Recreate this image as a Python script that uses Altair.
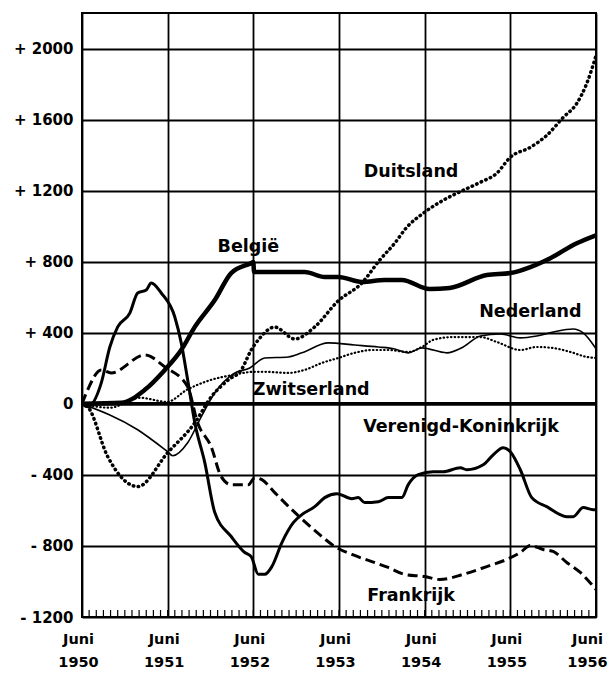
import altair as alt
import pandas as pd

# months since June 1950, values (cumulative position)
belgie_m = [0, 5.5, 8.8, 11.6, 13.9, 15.8, 18.6, 20.9, 23.7, 24.0, 24.1, 27.5, 31.2, 34.0, 35.9, 39.2, 42.4, 44.8, 48.7, 51.5, 56.7, 60.0, 62.8, 65.6, 69.3, 72.0]
belgie_v = [0, 6, 79, 191, 303, 433, 584, 736, 792, 798, 742, 742, 742, 714, 714, 686, 697, 697, 646, 652, 725, 736, 770, 820, 904, 949]

vk_m = [0, 0.8, 2.7, 3.9, 5.0, 6.7, 7.8, 9.0, 9.7, 11.1, 13.0, 13.9, 14.8, 15.8, 17.2, 18.6, 20.9, 22.8, 23.7, 24.7, 25.6, 26.6, 28.0, 29.6, 30.8, 32.6, 34.0, 35.7, 37.8, 38.7, 39.6, 41.5, 42.9, 44.8, 45.7, 47.1, 49.2, 50.6, 53.0, 53.9, 56.2, 57.6, 59.0, 60.0, 61.4, 63.0, 65.1, 67.9, 68.8, 70.2, 71.6, 72.0]
vk_v = [0, -17, 118, 320, 433, 511, 624, 641, 680, 624, 489, 343, 135, -107, -331, -612, -747, -837, -860, -960, -960, -916, -781, -669, -624, -579, -528, -506, -534, -528, -556, -551, -528, -528, -455, -399, -382, -382, -360, -371, -343, -287, -247, -270, -371, -528, -579, -635, -635, -584, -596, -596]

frankrijk_m = [0, 0.8, 2.7, 4.1, 8.8, 11.6, 14.8, 16.2, 18.1, 19.5, 20.9, 23.3, 24.2, 25.2, 27.0, 29.4, 31.2, 33.6, 35.4, 37.8, 40.6, 42.9, 45.2, 48.0, 50.1, 53.4, 56.7, 59.5, 61.4, 62.8, 64.6, 66.0, 67.9, 69.8, 71.4, 72.0]
frankrijk_v = [0, 79, 191, 174, 275, 208, 96, -107, -242, -410, -455, -455, -416, -427, -500, -596, -663, -747, -803, -848, -888, -921, -960, -972, -989, -960, -916, -876, -837, -798, -820, -831, -893, -949, -1017, -1045]

duitsland_m = [0, 0.8, 3.6, 7.8, 12.0, 15.8, 18.1, 20.5, 22.3, 23.7, 24.7, 27.0, 29.8, 32.6, 35.9, 39.2, 41.7, 43.8, 45.5, 47.8, 50.6, 53.4, 55.8, 58.1, 60.0, 62.8, 65.1, 67.4, 69.3, 70.7, 72.0]
duitsland_v = [0, -17, -297, -466, -275, -107, 39, 135, 190, 303, 360, 432, 365, 433, 580, 680, 809, 904, 994, 1073, 1146, 1202, 1247, 1298, 1388, 1444, 1511, 1612, 1691, 1803, 1960]

nederland_m = [0, 7.8, 12.0, 12.7, 14.8, 16.7, 18.6, 21.2, 23.5, 25.6, 28.9, 30.8, 34.5, 38.2, 41.5, 43.8, 45.7, 47.6, 51.1, 53.4, 55.8, 58.6, 61.4, 63.7, 66.0, 68.8, 70.2, 72.0]
nederland_v = [0, -146, -270, -292, -219, -73, 62, 169, 202, 258, 264, 287, 343, 331, 320, 309, 287, 315, 287, 320, 382, 393, 371, 382, 404, 421, 399, 310]

zwitserland_m = [0, 3.9, 8.1, 11.9, 14.7, 18.1, 21.2, 24.0, 25.6, 28.9, 31.2, 33.6, 35.9, 38.2, 40.6, 42.9, 45.7, 47.6, 49.2, 52.0, 55.8, 58.1, 61.4, 63.7, 66.0, 68.4, 70.7, 72.0]
zwitserland_v = [0, -22, 34, 11, 79, 135, 163, 180, 180, 174, 191, 230, 258, 287, 303, 303, 292, 320, 360, 376, 376, 348, 303, 320, 314, 292, 264, 258]

label_names = ["België", "Duitsland", "Nederland", "Zwitserland", "Verenigd-Koninkrijk", "Frankrijk"]
label_m = [23.3, 46.1, 62.8, 32.1, 53.1, 46.1]
label_v = [882, 1303, 517, 79, -129, -1084]

year_ticks = [0, 12, 24, 36, 48, 60, 72]
month_ticks = list(range(1, 72))
y_ticks = list(range(-1200, 2201, 200))

series = [
    ("België", belgie_m, belgie_v),
    ("Verenigd-Koninkrijk", vk_m, vk_v),
    ("Frankrijk", frankrijk_m, frankrijk_v),
    ("Duitsland", duitsland_m, duitsland_v),
    ("Nederland", nederland_m, nederland_v),
    ("Zwitserland", zwitserland_m, zwitserland_v),
]
rows = []
for name, ms, vs in series:
    for m, v in zip(ms, vs):
        rows.append({"land": name, "maand": m, "waarde": v})
df = pd.DataFrame(rows)

FONT = "DejaVu Sans"

xscale = alt.Scale(domain=[0, 72], nice=False, zero=False)
yscale = alt.Scale(domain=[-1200, 2200], nice=False, zero=False)

xaxis = alt.Axis(
    values=year_ticks, title=None, grid=True, domain=False, ticks=False,
    labelExpr="['Juni', '' + (1950 + datum.value / 12)]",
    labelFont=FONT, labelFontWeight="bold", labelFontSize=14.5, labelColor="black",
    labelPadding=15, labelLineHeight=23, labelFlush=False,
    labelOffset={"condition": {"test": "datum.value == 72", "value": -9}, "value": -4},
    gridColor="black", gridOpacity=1, gridWidth=1.8,
)
yaxis = alt.Axis(
    values=y_ticks, title=None, grid=True, domain=False, ticks=False,
    labelExpr="datum.value == 0 ? '0' : ((datum.value % 400 != 0 || datum.value > 2000) ? '' : ((datum.value > 0 ? '+ ' : '- ') + abs(datum.value)))",
    labelFont=FONT, labelFontWeight="bold", labelFontSize=15, labelColor="black",
    labelPadding=9, labelFlush=False,
    gridColor="black", gridOpacity=1, gridWidth=1.8,
)

base = alt.Chart(df)

def line(name, width, dash=None, cap="butt"):
    kw = dict(color="black", strokeWidth=width, strokeCap=cap, interpolate="monotone", clip=True)
    if dash:
        kw["strokeDash"] = dash
    return base.transform_filter(alt.datum.land == name).mark_line(**kw).encode(
        x=alt.X("maand:Q", scale=xscale, axis=xaxis),
        y=alt.Y("waarde:Q", scale=yscale, axis=yaxis),
    )

zero = alt.Chart(pd.DataFrame({"v": [0]})).mark_rule(color="black", strokeWidth=3.5).encode(
    y=alt.Y("v:Q", scale=yscale)
)

ticks = alt.Chart(pd.DataFrame({"maand": month_ticks})).mark_rule(color="black", strokeWidth=1.2).encode(
    x=alt.X("maand:Q", scale=xscale), y=alt.value(604), y2=alt.value(597)
)

labels = alt.Chart(pd.DataFrame({"naam": label_names, "maand": label_m, "waarde": label_v})).mark_text(
    font=FONT, fontWeight="bold", fontSize=17.5, color="black", align="center", baseline="middle"
).encode(
    x=alt.X("maand:Q", scale=xscale), y=alt.Y("waarde:Q", scale=yscale), text="naam:N"
)

chart = alt.layer(
    line("België", 4.5),
    line("Verenigd-Koninkrijk", 3),
    line("Frankrijk", 3, dash=[10, 5]),
    line("Duitsland", 3.5, dash=[0.5, 4.5], cap="round"),
    line("Nederland", 1.6),
    line("Zwitserland", 2.2, dash=[0.5, 3.2], cap="round"),
    zero, ticks, labels,
).properties(
    width=514, height=604,
    autosize=alt.AutoSizeParams(type="none"),
    padding={"left": 74, "top": 5, "right": 12, "bottom": 52},
    background="white",
).configure_view(stroke="black", strokeWidth=2)

chart.save("out.html", embed_options={"renderer": "svg", "actions": False})
